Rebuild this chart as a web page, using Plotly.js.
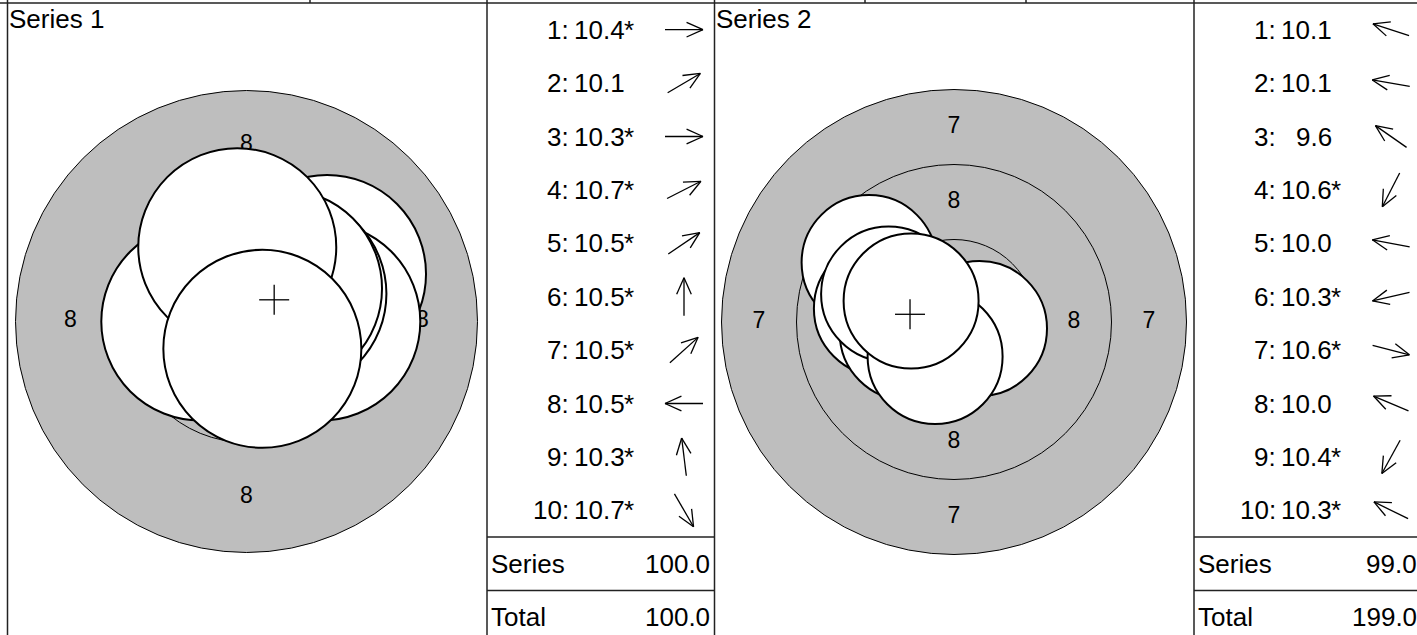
<!DOCTYPE html>
<html><head><meta charset="utf-8">
<script src="https://cdn.plot.ly/plotly-3.0.1.min.js"></script>
<style>html,body{margin:0;padding:0;background:#fff;} #chart{width:1417px;height:635px;}</style>
</head><body><div id="chart"></div>
<script>
// ---------------- data ----------------
const seriesNames = ["Series 1", "Series 2"];
const shotNumbers = [1, 2, 3, 4, 5, 6, 7, 8, 9, 10];
// shot positions relative to target centre (mm, x right, y up)
const series1X = [1.35, 1.83, 1.70, 0.55, 0.93, 0.00, 0.83, -1.05, -0.21, 0.36];
const series1Y = [0.00, 1.08, 0.00, 0.28, 0.63, 1.12, 0.75, 0.00, 1.69, -0.62];
const series1Score = [10.4, 10.1, 10.3, 10.7, 10.5, 10.5, 10.5, 10.5, 10.3, 10.7];
const series1Inner = [1, 0, 1, 1, 1, 1, 1, 1, 1, 1];
const series2X = [-2.00, -2.07, -2.83, -0.39, -2.42, -1.56, 0.85, -2.18, -0.63, -1.43];
const series2Y = [0.65, 0.35, 1.98, -0.76, 0.45, -0.36, -0.22, 0.93, -1.15, 0.70];
const series2Score = [10.1, 10.1, 9.6, 10.6, 10.0, 10.3, 10.6, 10.0, 10.4, 10.3];
const series2Inner = [0, 0, 0, 1, 0, 1, 1, 0, 1, 1];
const seriesTotals = [100.0, 99.0];
const runningTotals = [100.0, 199.0];
const totalLabels = ["Series", "Total"];
// target rings (score value, outer radius in mm)
const ringValues = [7, 8, 9, 10];
const ringRadii = [7.75, 5.25, 2.75, 0.25];
const rings1Shown = [8, 9, 10];
const rings2Shown = [7, 8, 9, 10];
const pelletDiameter = 4.5;

// ---------------- layout geometry ----------------
const W = 1417, H = 635, TOP = 3, ROWH = 53.4;
const FONT = '"Liberation Sans", Arial, sans-serif';
const GREY = '#BEBEBE';
const panels = [
  {name: seriesNames[0], xs: series1X, ys: series1Y, sc: series1Score, inner: series1Inner, rings: rings1Shown,
   left: 7.5, tgtRight: 487, legRight: 714.5, cx: 246.5, cy: 321.5, scale: 44, ax: 'x', ay: 'y',
   total: seriesTotals[0], run: runningTotals[0]},
  {name: seriesNames[1], xs: series2X, ys: series2Y, sc: series2Score, inner: series2Inner, rings: rings2Shown,
   left: 714.5, tgtRight: 1194, legRight: 1421.5, cx: 954, cy: 322, scale: 30, ax: 'x2', ay: 'y2',
   total: seriesTotals[1], run: runningTotals[1]}
];

const traces = [];
const shapes = [];
const annotations = [];
const layout = {
  width: W, height: H, margin: {l: 0, r: 0, t: 0, b: 0, pad: 0},
  paper_bgcolor: '#ffffff', plot_bgcolor: 'rgba(0,0,0,0)', showlegend: false,
  font: {family: FONT, color: '#000'},
  xaxis3: {domain: [0, 1], range: [0, W], visible: false, fixedrange: true, anchor: 'y3'},
  yaxis3: {domain: [0, 1], range: [H, 0], visible: false, fixedrange: true, anchor: 'x3'}
};

function ringRadius(v) { return ringRadii[ringValues.indexOf(v)]; }
function txt(x, y, s, xanchor, size) {
  annotations.push({xref: 'x3', yref: 'y3', x: x, y: y, xanchor: xanchor, yanchor: 'middle',
    text: s, showarrow: false, borderpad: 0, borderwidth: 0, font: {family: FONT, size: size || 26, color: '#000'}});
}

panels.forEach((p, k) => {
  const xa = k === 0 ? 'xaxis' : 'xaxis2';
  const ya = k === 0 ? 'yaxis' : 'yaxis2';
  layout[xa] = {domain: [p.left / W, p.tgtRight / W],
    range: [(p.left - p.cx) / p.scale, (p.tgtRight - p.cx) / p.scale],
    visible: false, fixedrange: true, anchor: p.ay, showgrid: false, zeroline: false};
  layout[ya] = {domain: [0, (H - TOP) / H],
    range: [-(H - p.cy) / p.scale, (p.cy - TOP) / p.scale],
    visible: false, fixedrange: true, anchor: p.ax, showgrid: false, zeroline: false};

  // rings
  p.rings.forEach(v => {
    const r = ringRadius(v);
    shapes.push({type: 'circle', xref: p.ax, yref: p.ay, x0: -r, x1: r, y0: -r, y1: r,
      fillcolor: GREY, line: {color: '#000', width: 1}, layer: 'below'});
  });
  // ring labels
  const lx = [], ly = [], lt = [];
  p.rings.forEach(v => {
    if (v === 10) return;
    const rm = (ringRadius(v) + ringRadius(v + 1)) / 2;
    [[0, 1], [0, -1], [-1, 0], [1, 0]].forEach(d => { lx.push(d[0] * rm); ly.push(d[1] * rm); lt.push(String(v)); });
  });
  traces.push({type: 'scatter', mode: 'text', x: lx, y: ly, text: lt, xaxis: p.ax, yaxis: p.ay,
    textfont: {family: FONT, size: 23, color: '#000'}, hoverinfo: 'skip'});

  // pellets
  const pr = pelletDiameter / 2;
  p.xs.forEach((x, i) => {
    const y = p.ys[i];
    shapes.push({type: 'circle', xref: p.ax, yref: p.ay, x0: x - pr, x1: x + pr, y0: y - pr, y1: y + pr,
      fillcolor: '#ffffff', line: {color: '#000', width: 2}, layer: 'above'});
  });
  // centre of group cross
  const mx = p.xs.reduce((a, b) => a + b, 0) / p.xs.length;
  const my = p.ys.reduce((a, b) => a + b, 0) / p.ys.length;
  shapes.push({type: 'line', xref: p.ax, yref: p.ay, xsizemode: 'pixel', xanchor: mx, x0: -15, x1: 15, y0: my, y1: my,
    line: {color: '#000', width: 1.3}, layer: 'above'});
  shapes.push({type: 'line', xref: p.ax, yref: p.ay, ysizemode: 'pixel', yanchor: my, y0: -15, y1: 15, x0: mx, x1: mx,
    line: {color: '#000', width: 1.3}, layer: 'above'});

  // panel title
  txt(p.left + 1.2, 18.5, p.name, 'left');

  // legend table
  const L = p.tgtRight;
  const ax = [], ay = [];
  p.xs.forEach((x, i) => {
    const cyRow = TOP + (i + 0.5) * ROWH;
    txt(L + 82, cyRow, shotNumbers[i] + ':', 'right');
    txt(L + 137.5, cyRow, p.sc[i].toFixed(1), 'right');
    if (p.inner[i]) txt(L + 137, cyRow, '*', 'left');
    // direction arrow from shot position
    const a = Math.atan2(p.ys[i], x);
    const dx = Math.cos(a), dy = -Math.sin(a);
    const cxA = L + 197, half = 19;
    const tx = cxA + half * dx, ty = cyRow + half * dy;
    ax.push(cxA - half * dx, tx, null);
    ay.push(cyRow - half * dy, ty, null);
    [24, -24].forEach(deg => {
      const t = deg * Math.PI / 180;
      const bx = -dx * Math.cos(t) + dy * Math.sin(t);
      const by = -dx * Math.sin(t) - dy * Math.cos(t);
      ax.push(tx, tx + 18 * bx, null);
      ay.push(ty, ty + 18 * by, null);
    });
  });
  traces.push({type: 'scatter', mode: 'lines', x: ax, y: ay, xaxis: 'x3', yaxis: 'y3',
    line: {color: '#000', width: 1.3}, hoverinfo: 'skip'});

  // totals rows
  [p.total, p.run].forEach((v, j) => {
    const cyRow = TOP + (10 + j + 0.5) * ROWH;
    txt(L + 3.5, cyRow, totalLabels[j], 'left');
    txt(p.legRight - 4.5, cyRow, v.toFixed(1), 'right');
  });
  // row separators
  [10, 11].forEach(r => {
    const yy = TOP + r * ROWH;
    shapes.push({type: 'line', xref: 'x3', yref: 'y3', x0: L, x1: p.legRight, y0: yy, y1: yy,
      line: {color: '#222', width: 1.5}, layer: 'above'});
  });
  // vertical frame lines
  [p.left, p.tgtRight].forEach(xx => {
    shapes.push({type: 'line', xref: 'x3', yref: 'y3', x0: xx, x1: xx, y0: 0, y1: H,
      line: {color: '#222', width: 1.5}, layer: 'above'});
  });
});

// top frame line and ticks of the row above
shapes.push({type: 'line', xref: 'x3', yref: 'y3', x0: 0, x1: W, y0: TOP, y1: TOP,
  line: {color: '#222', width: 1.5}, layer: 'above'});
[310, 865, 1026].forEach(xx => {
  shapes.push({type: 'line', xref: 'x3', yref: 'y3', x0: xx, x1: xx, y0: 0, y1: TOP,
    line: {color: '#222', width: 1.5}, layer: 'above'});
});

layout.shapes = shapes;
layout.annotations = annotations;
Plotly.newPlot('chart', traces, layout, {staticPlot: true, displayModeBar: false});
</script></body></html>
